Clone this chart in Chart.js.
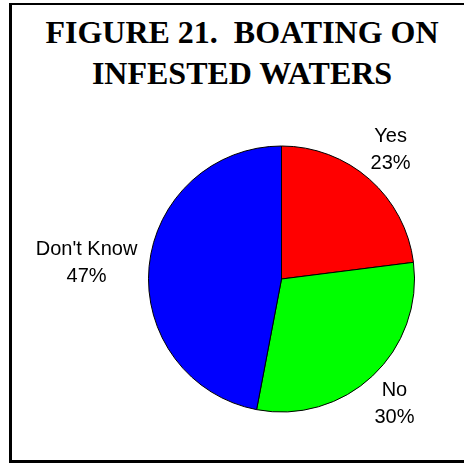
<!DOCTYPE html>
<html>
<head>
<meta charset="utf-8">
<script src="https://cdn.jsdelivr.net/npm/chart.js@4"></script>
<style>
  html, body { margin: 0; padding: 0; background: #fff; }
  #wrap { position: relative; width: 464px; height: 464px; overflow: hidden; }
  #frame {
    position: absolute; left: 9px; top: 3px; width: 480px; height: 460px;
    box-sizing: border-box;
    border-left: 3px solid #000; border-top: 2px solid #000; border-bottom: 3px solid #000;
  }
  #title {
    position: absolute; left: 12px; top: 12px; width: 460px;
    font-family: "Liberation Serif", "Times New Roman", serif;
    font-weight: bold; font-size: 32px; line-height: 40.5px;
    text-align: center; white-space: pre; color: #000;
  }
  #chart { position: absolute; left: 0; top: 0; }
</style>
</head>
<body>
<div id="wrap">
  <div id="frame"></div>
  <div id="title">FIGURE 21.  BOATING ON
INFESTED WATERS</div>
  <canvas id="chart" width="464" height="464"></canvas>
</div>
<script>
document.addEventListener('DOMContentLoaded', function() {
    // Datos del gráfico
    const categories = ['Yes', 'No', "Don't Know"];
    const values = [23, 30, 47];
    const colors = ['#ff0000', '#00ff00', '#0000ff'];

    const total = values.reduce((a, b) => a + b, 0);

    // Etiquetas fuera del pastel
    const outsideLabels = {
        id: 'outsideLabels',
        afterDatasetsDraw(chart) {
            const ctx = chart.ctx;
            const meta = chart.getDatasetMeta(0);
            const lineH = 27;
            const gap = 12;
            ctx.save();
            ctx.font = '20px "Liberation Sans", Arial, sans-serif';
            ctx.fillStyle = '#000';
            ctx.textAlign = 'center';
            ctx.textBaseline = 'middle';
            meta.data.forEach((arc, i) => {
                const p = arc.getProps(['x', 'y', 'startAngle', 'endAngle', 'outerRadius'], true);
                const mid = (p.startAngle + p.endAngle) / 2;
                const dx = Math.cos(mid), dy = Math.sin(mid);
                const lines = [categories[i], Math.round(values[i] / total * 100) + '%'];
                const w = Math.max(...lines.map(t => ctx.measureText(t).width));
                const h = lines.length * lineH;
                const cx = p.x + dx * (p.outerRadius + gap) + dx * w / 2;
                const cy = p.y + dy * (p.outerRadius + gap) + dy * h / 2;
                lines.forEach((t, j) => {
                    ctx.fillText(t, cx, cy - h / 2 + lineH / 2 + j * lineH);
                });
            });
            ctx.restore();
        }
    };

    const ctx = document.getElementById('chart');
    new Chart(ctx.getContext('2d'), {
        type: 'pie',
        data: {
            labels: categories,
            datasets: [{
                data: values,
                backgroundColor: colors,
                borderColor: '#000',
                borderWidth: 1
            }]
        },
        options: {
            responsive: false,
            animation: false,
            layout: { padding: { left: 148, right: 49, top: 145.5, bottom: 51.5 } },
            plugins: {
                legend: { display: false },
                tooltip: { enabled: false }
            }
        },
        plugins: [outsideLabels]
    });
});
</script>
</body>
</html>
